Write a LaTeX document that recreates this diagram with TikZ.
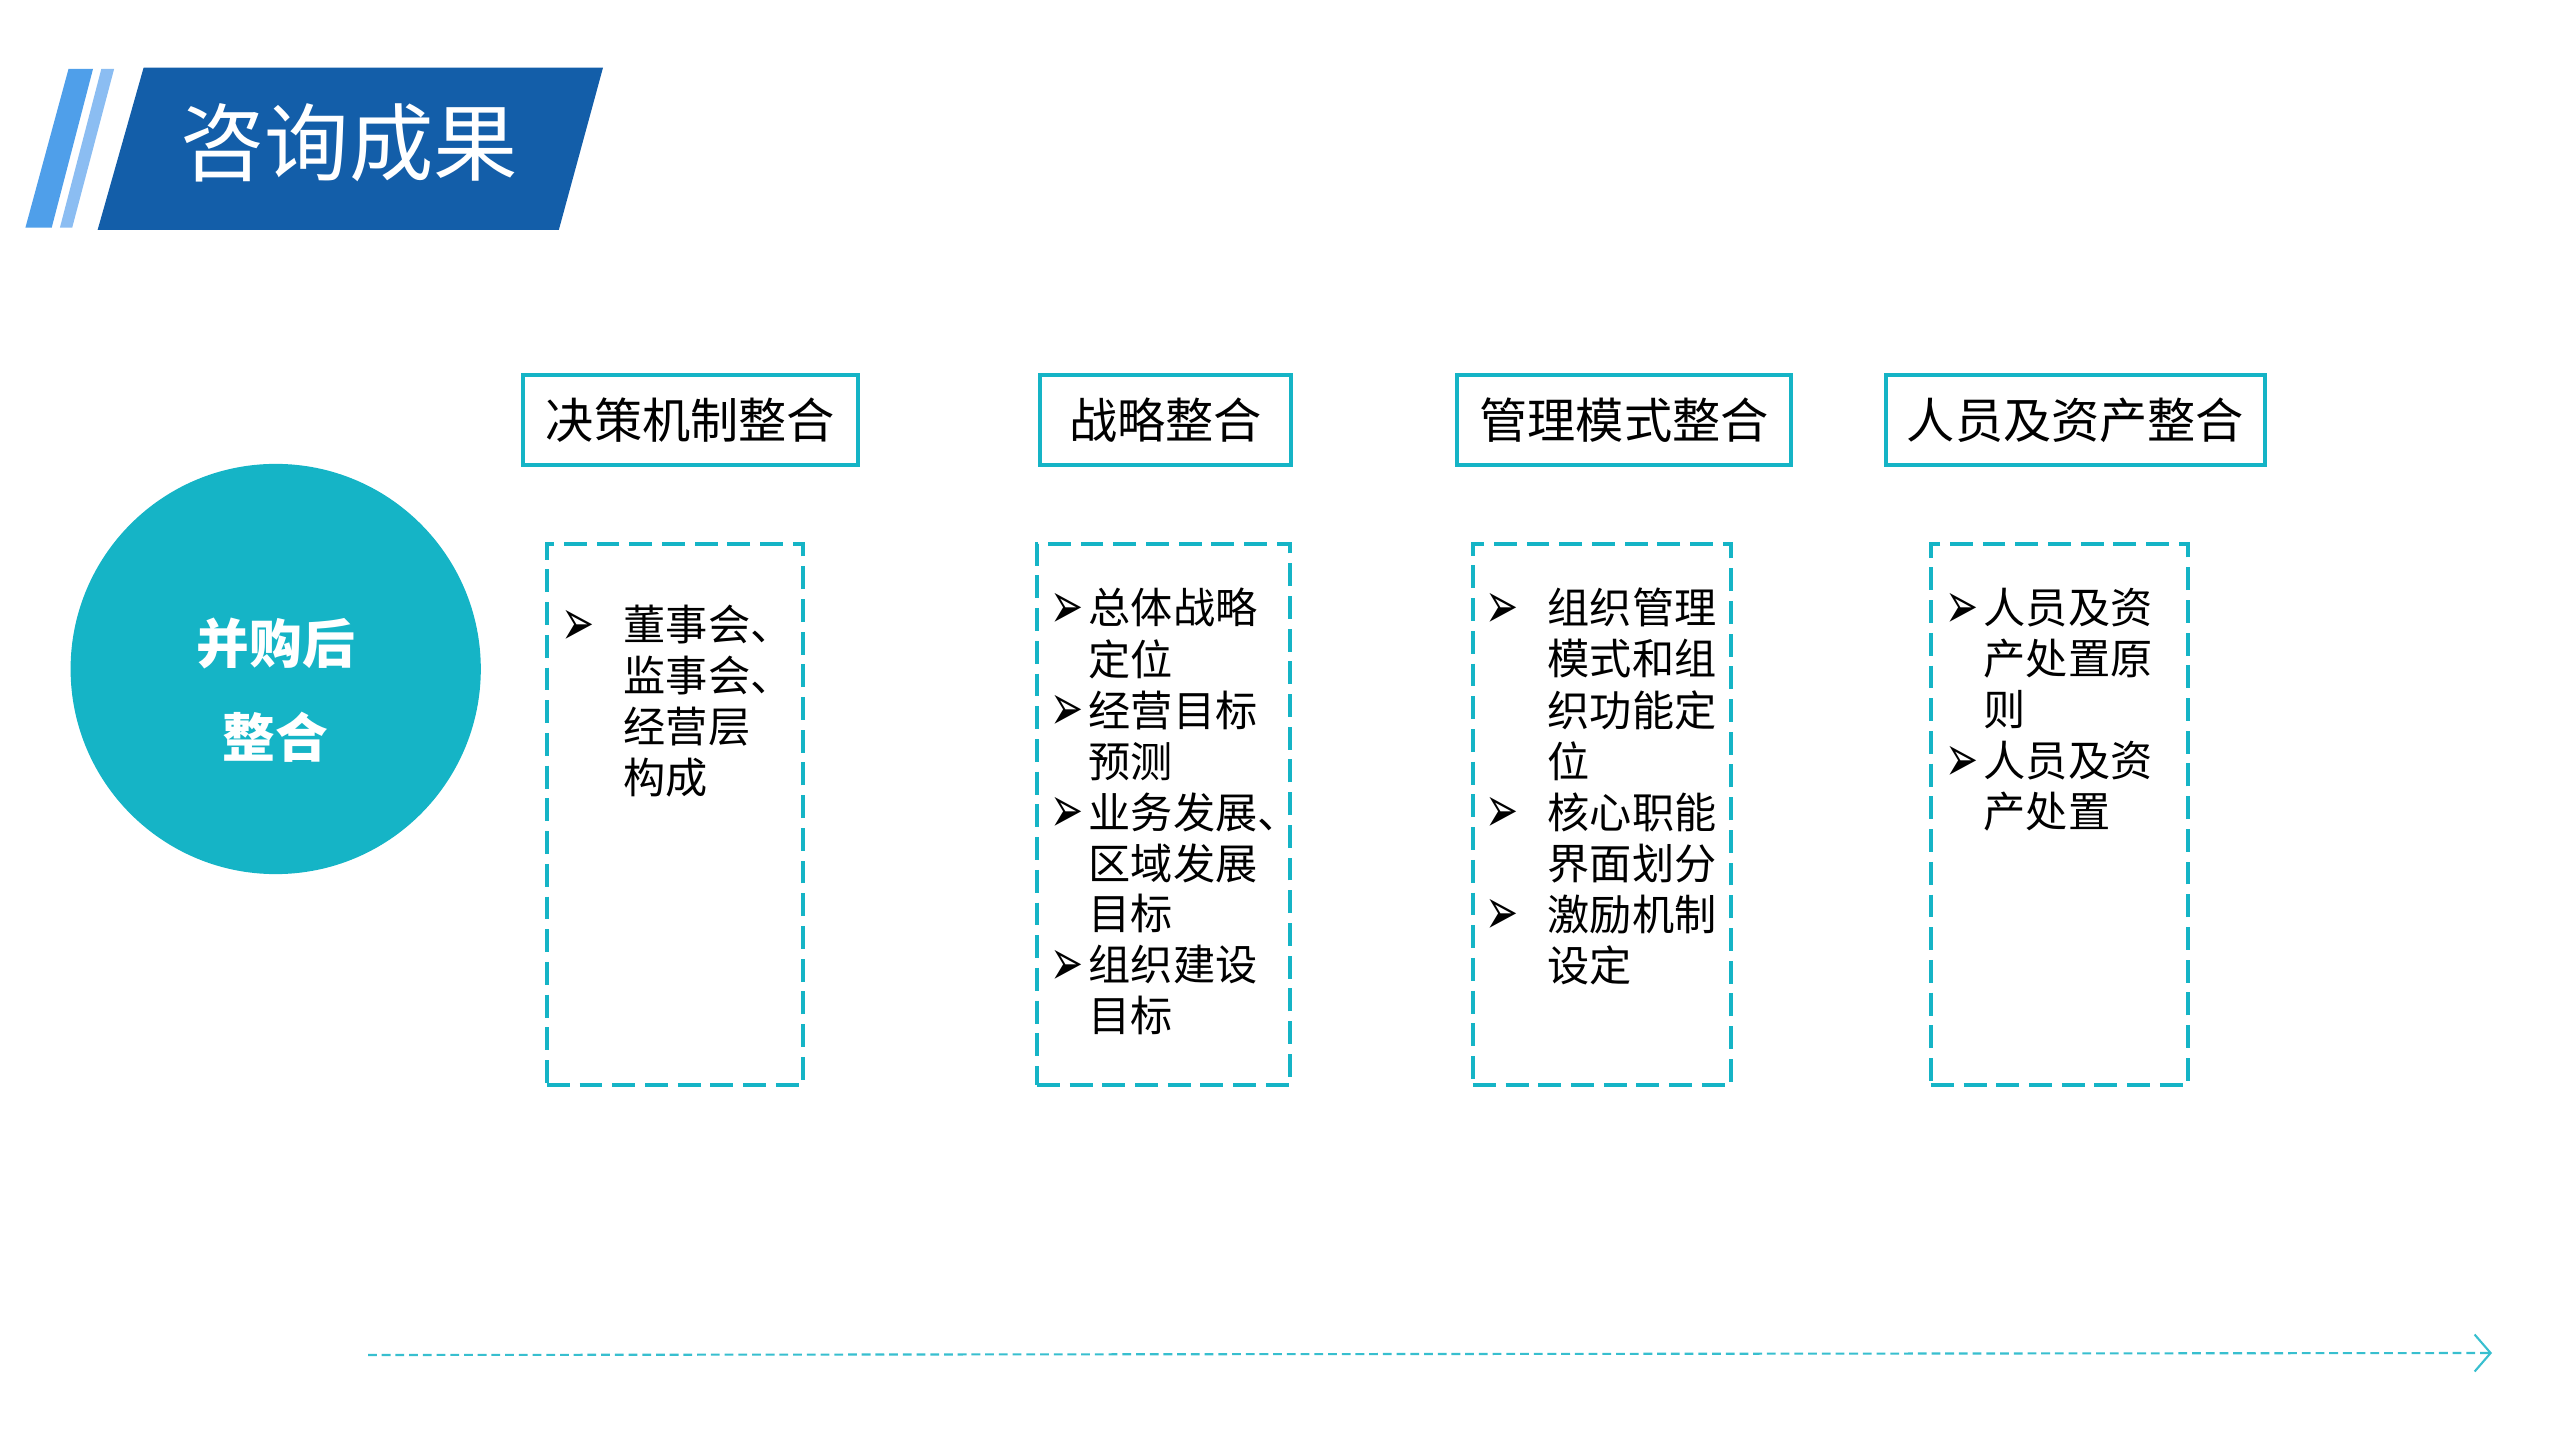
\documentclass[tikz,border=0pt]{standalone}
\usepackage{fontspec}
\usepackage{graphicx}
\setmainfont{Noto Sans CJK SC}
\newfontfamily\symfont{DejaVu Sans}
\usetikzlibrary{arrows.meta}

\definecolor{teal1}{RGB}{21,180,198}
\definecolor{navy1}{RGB}{19,94,169}
\definecolor{sky1}{RGB}{79,159,234}
\definecolor{sky2}{RGB}{139,189,242}

\newcommand{\bul}[1]{\makebox[#1][l]{\raisebox{-1.2pt}{\scalebox{0.9}[1.5]{\symfont\fontsize{12.5pt}{12.5pt}\selectfont ➢}}}}

\begin{document}
\begin{tikzpicture}[x=0.01cm, y=-0.01cm,
  head/.style={draw=teal1, line width=1pt, fill=white, minimum height=0.9cm, inner sep=0pt, font=\fontsize{13.7pt}{16pt}\selectfont},
  pane/.style={draw=teal1, line width=1pt, dash pattern=on 6.5pt off 2.8pt, minimum height=5.41cm, inner sep=0pt},
  items/.style={anchor=base west, inner sep=0pt, font=\fontsize{12pt}{14.5pt}\selectfont}]
  \useasboundingbox (0,0) rectangle (2560,1440);

  % title banner
  \fill[sky1] (68.5,69) -- (93,69) -- (51.7,227.7) -- (25.4,227.7) -- cycle;
  \fill[sky2] (101.3,69) -- (114.1,69) -- (72.2,227.7) -- (59.9,227.7) -- cycle;
  \fill[navy1] (143.6,67.7) -- (603,67.7) -- (558.8,230) -- (97.6,230) -- cycle;
  \node[text=white, font=\fontsize{24pt}{24pt}\selectfont] (title) at (349,142.5) {咨询成果};

  % circle
  \node[circle, fill=teal1, minimum size=4.1cm, inner sep=0pt] (core) at (275.7,669) {};
  \node[text=white, align=center, font=\fontsize{15pt}{26.7pt}\selectfont\bfseries] (coretext) at (275.7,690) {并购后\\整合};

  % headers
  \node[head, minimum width=3.35cm] (h1) at (690.5,420) {决策机制整合};
  \node[head, minimum width=2.51cm] (h2) at (1165.5,420) {战略整合};
  \node[head, minimum width=3.34cm] (h3) at (1624,420) {管理模式整合};
  \node[head, minimum width=3.79cm] (h4) at (2075.5,420) {人员及资产整合};

  % dashed panes
  \node[pane, minimum width=2.56cm] (p1) at (675,814.5) {};
  \node[pane, minimum width=2.53cm] (p2) at (1163.5,814.5) {};
  \node[pane, minimum width=2.58cm] (p3) at (1602,814.5) {};
  \node[pane, minimum width=2.57cm] (p4) at (2059.5,814.5) {};

  % items
  \node[items] (t1) at (561,641) {\begin{tabular}[t]{@{}l@{}l@{}}
    \bul{0.62cm} & 董事会、\\ & 监事会、\\ & 经营层\\ & 构成
  \end{tabular}};
  \node[items] (t2) at (1050,624) {\begin{tabular}[t]{@{}l@{}l@{}}
    \bul{0.38cm} & 总体战略\\ & 定位\\
    \bul{0.38cm} & 经营目标\\ & 预测\\
    \bul{0.38cm} & 业务发展、\\ & 区域发展\\ & 目标\\
    \bul{0.38cm} & 组织建设\\ & 目标
  \end{tabular}};
  \node[items] (t3) at (1485,624) {\begin{tabular}[t]{@{}l@{}l@{}}
    \bul{0.62cm} & 组织管理\\ & 模式和组\\ & 织功能定\\ & 位\\
    \bul{0.62cm} & 核心职能\\ & 界面划分\\
    \bul{0.62cm} & 激励机制\\ & 设定
  \end{tabular}};
  \node[items] (t4) at (1945,624) {\begin{tabular}[t]{@{}l@{}l@{}}
    \bul{0.38cm} & 人员及资\\ & 产处置原\\ & 则\\
    \bul{0.38cm} & 人员及资\\ & 产处置
  \end{tabular}};

  % timeline
  \coordinate (ts) at (368,1355);
  \coordinate (te) at (2492,1353);
  \draw[teal1!85, line width=0.6pt, dash pattern=on 2.5pt off 1.4pt, -{Straight Barb[length=1.6mm, width=3.7mm]}] (ts) -- (te);
\end{tikzpicture}
\end{document}
